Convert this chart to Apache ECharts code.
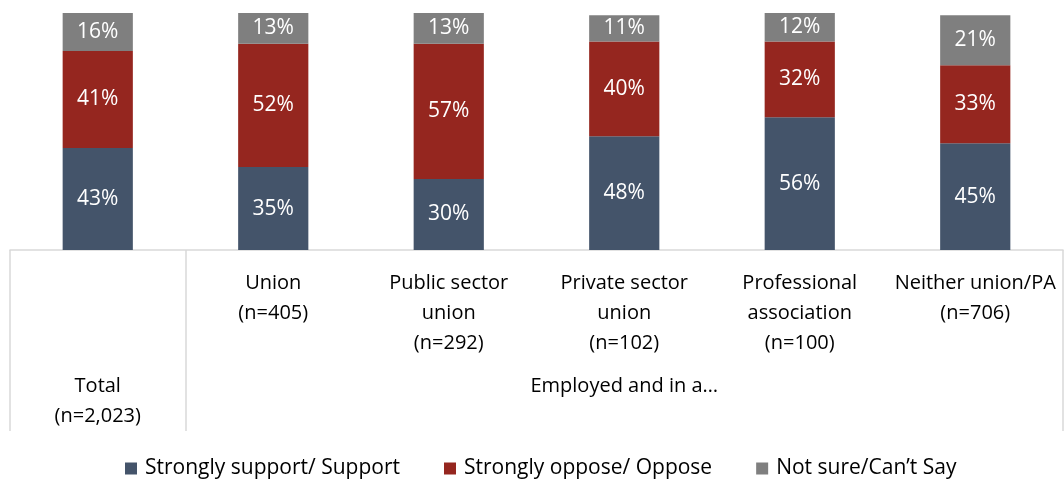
<!DOCTYPE html>
<html>
<head>
<meta charset="utf-8">
<script src="https://cdn.jsdelivr.net/npm/echarts@6/dist/echarts.min.js"></script>
<style>
  html, body { margin: 0; padding: 0; background: #fff; }
  #chart { width: 1064px; height: 479px; }
</style>
</head>
<body>
<div id="chart"></div>
<script>
// Inner category labels (the "Total" column gets its label on the outer level)
const categories = [
  '',
  'Union\n(n=405)',
  'Public sector\nunion\n(n=292)',
  'Private sector\nunion\n(n=102)',
  'Professional\nassociation\n(n=100)',
  'Neither union/PA\n(n=706)'
];
// Outer level labels; "Employed and in a…" sits centred under the five employed groups
const groupLabels = ['Total\n(n=2,023)', '', '', 'Employed and in a\u2026', '', ''];

const seriesNames = ['Strongly support/ Support', 'Strongly oppose/ Oppose', 'Not sure/Can\u2019t Say'];
const supportValues = [43, 35, 30, 48, 56, 45];
const opposeValues  = [41, 52, 57, 40, 32, 33];
const notSureValues = [16, 13, 13, 11, 12, 21];

const colors = ['#44546A', '#95261F', '#7F7F7F'];
const FONT = '"Open Sans", sans-serif';

const chart = echarts.init(document.getElementById('chart'), null, { renderer: 'canvas' });

function barSeries(name, data, color) {
  return {
    name: name,
    type: 'bar',
    stack: 'total',
    barWidth: '40%',
    data: data,
    itemStyle: { color: color },
    label: {
      show: true,
      position: 'inside',
      formatter: '{c}%',
      color: '#ffffff',
      fontFamily: FONT,
      fontSize: 21
    }
  };
}

chart.setOption({
  animation: false,
  grid: { left: 10, right: 1, top: 13, bottom: 229, containLabel: false },
  legend: {
    top: 453,
    left: 120,
    icon: 'rect',
    itemWidth: 12,
    itemHeight: 12,
    itemGap: 44,
    textStyle: { fontFamily: FONT, fontSize: 21, color: '#000', padding: [0, 0, 0, 3] },
    data: seriesNames
  },
  xAxis: [
    {
      type: 'category',
      data: categories,
      position: 'bottom',
      axisLine: { show: true, lineStyle: { color: '#D9D9D9', width: 1.5 } },
      axisTick: {
        show: true,
        length: 181,
        interval: function (index) { return index <= 1; },
        lineStyle: { color: '#D9D9D9', width: 1.5 }
      },
      axisLabel: {
        interval: 0,
        margin: 18,
        fontFamily: FONT,
        fontSize: 20,
        lineHeight: 30,
        color: '#000'
      }
    },
    {
      type: 'category',
      data: groupLabels,
      position: 'bottom',
      offset: 103,
      axisLine: { show: false },
      axisTick: { show: false },
      axisLabel: {
        interval: 0,
        margin: 18,
        fontFamily: FONT,
        fontSize: 20,
        lineHeight: 30,
        color: '#000'
      }
    }
  ],
  yAxis: { type: 'value', min: 0, max: 100, show: false },
  series: [
    barSeries(seriesNames[0], supportValues, colors[0]),
    barSeries(seriesNames[1], opposeValues, colors[1]),
    barSeries(seriesNames[2], notSureValues, colors[2])
  ]
});
</script>
</body>
</html>
